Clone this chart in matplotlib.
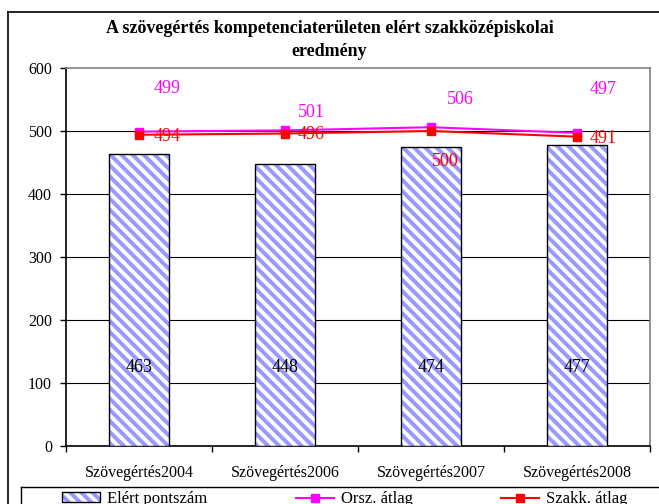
import matplotlib
matplotlib.use("Agg")
import matplotlib.pyplot as plt
from matplotlib.lines import Line2D
from matplotlib.patches import Patch
from matplotlib.legend_handler import HandlerTuple
import numpy as np

# ---- data ----
categories = ["Szövegértés2004", "Szövegértés2006", "Szövegértés2007", "Szövegértés2008"]
elert = [463, 448, 474, 477]
orsz = [499, 501, 506, 497]
szakk = [494, 496, 500, 491]
title = "A szövegértés kompetenciaterületen elért szakközépiskolai\neredmény"
series_names = ["Elért pontszám", "Orsz. átlag", "Szakk. átlag"]
yticks = [0, 100, 200, 300, 400, 500, 600]

# label offsets (points) for line data labels
orsz_off = [(20, 31), (19, 13), (21, 20), (19, 31)]
szakk_off = [(20, -1.5), (19, -1), (10, -22), (19, -1)]
bar_label_y = 125

plt.rcParams['font.family'] = ['Liberation Serif', 'DejaVu Serif']
plt.rcParams['hatch.linewidth'] = 2.9

HATCH = '\\\\\\'
HCOL = '#9999FF'

W, H = 659, 504
fig = plt.figure(figsize=(W / 100, H / 100), dpi=100)
fig.patch.set_facecolor('white')

ax = fig.add_axes([66 / W, 1 - 446 / H, 584 / W, 378 / H])
x = np.arange(len(categories))

# bars: hatched fill layer + black outline layer
ax.bar(x, elert, width=0.41, color='white', edgecolor=HCOL, linewidth=0,
       hatch=HATCH, zorder=3)
ax.bar(x, elert, width=0.41, fill=False, edgecolor='black', linewidth=1.0, zorder=3.5)
for xi, v in zip(x, elert):
    ax.text(xi, bar_label_y, str(v), ha='center', va='center', fontsize=13, color='black', zorder=5)

# lines
ax.plot(x, orsz, color='#FF00FF', marker='s', markersize=5.5, linewidth=1.5, zorder=4)
ax.plot(x, szakk, color='#FF0000', marker='s', markersize=6, linewidth=1.5, zorder=4)

for xi, v, off in zip(x, orsz, orsz_off):
    ax.annotate(str(v), (xi, v), xytext=off, textcoords='offset points',
                ha='center', va='center', fontsize=13, color='#FF00FF', zorder=6)
for xi, v, off in zip(x, szakk, szakk_off):
    ax.annotate(str(v), (xi, v), xytext=off, textcoords='offset points',
                ha='center', va='center', fontsize=13, color='#FF0000', zorder=6)

ax.set_xlim(-0.5, len(categories) - 0.5)
ax.set_ylim(0, 600)
ax.set_yticks(yticks)
ax.set_yticklabels([str(t) for t in yticks], fontsize=11.5)
ax.tick_params(axis='y', length=4, width=1, pad=6, direction='out')

ax.set_xticks(x)
ax.set_xticklabels(categories, fontsize=11.5)
ax.set_xticks(np.arange(-0.5, len(categories)), minor=True)
ax.tick_params(axis='x', which='major', length=0, pad=14)
ax.tick_params(axis='x', which='minor', length=4, width=1, direction='out')

for yv in yticks[1:-1]:
    ax.axhline(yv, color='black', linewidth=0.8, zorder=1)

ax.spines['left'].set_color('black')
ax.spines['bottom'].set_color('black')
ax.spines['top'].set_color('#808080')
ax.spines['right'].set_color('#808080')
for s in ax.spines.values():
    s.set_linewidth(1.2)

# title
fig.text(0.5, 1 - 20 / H, title, ha='center', va='top', fontsize=13,
         fontweight='bold', linespacing=1.45)

# outer chart border (left and top)
fig.add_artist(Line2D([8 / W, 8 / W], [0, 1 - 12 / H], transform=fig.transFigure,
                      color='black', linewidth=1.2))
fig.add_artist(Line2D([8 / W, 1], [1 - 12 / H, 1 - 12 / H], transform=fig.transFigure,
                      color='black', linewidth=1.2))
# legend frame (left and top)
fig.add_artist(Line2D([21 / W, 21 / W], [0, 1 - 487 / H], transform=fig.transFigure,
                      color='black', linewidth=1.0))
fig.add_artist(Line2D([21 / W, 1], [1 - 487 / H, 1 - 487 / H], transform=fig.transFigure,
                      color='black', linewidth=1.0))

bar_handle = (Patch(facecolor='white', edgecolor=HCOL, hatch=HATCH, linewidth=0),
              Patch(fill=False, edgecolor='black', linewidth=1.0))
handles = [
    bar_handle,
    Line2D([], [], color='#FF00FF', marker='s', markersize=5.5, linewidth=1.5),
    Line2D([], [], color='#FF0000', marker='s', markersize=6, linewidth=1.5),
]
leg = fig.legend(handles, series_names, ncol=3, loc='upper left',
                 bbox_to_anchor=(62 / W, 1 - 491 / H), frameon=False,
                 fontsize=12, handlelength=2.3, handleheight=0.5, handletextpad=0.4,
                 columnspacing=5.3, borderpad=0, borderaxespad=0,
                 handler_map={tuple: HandlerTuple(ndivide=1, pad=0)})

fig.savefig('out.png', dpi=100, facecolor='white')
